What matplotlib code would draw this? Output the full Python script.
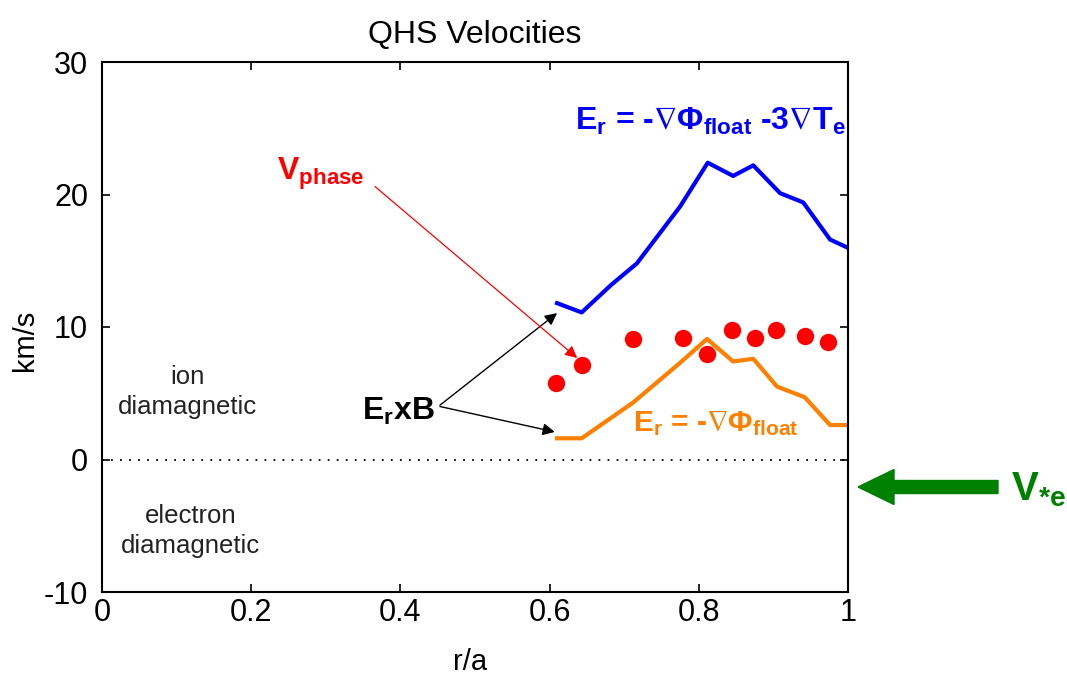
import matplotlib
matplotlib.use("Agg")
import matplotlib.pyplot as plt
from matplotlib.patches import FancyArrow

plt.rcParams['font.family'] = ['Liberation Sans', 'DejaVu Sans']
plt.rcParams['mathtext.fontset'] = 'custom'
plt.rcParams['mathtext.rm'] = 'Liberation Sans:bold'
plt.rcParams['mathtext.it'] = 'Liberation Sans:bold'
plt.rcParams['mathtext.bf'] = 'Liberation Sans:bold'
plt.rcParams['mathtext.sf'] = 'Liberation Sans:bold'
plt.rcParams['mathtext.fallback'] = 'stixsans'
plt.rcParams['axes.unicode_minus'] = False

# ---- data ----
r_full = [0.610, 0.643, 0.683, 0.717, 0.775, 0.812, 0.846, 0.873, 0.909, 0.940, 0.976, 0.999]
v_full = [11.8, 11.1, 13.2, 14.8, 19.1, 22.4, 21.4, 22.2, 20.1, 19.4, 16.6, 16.0]

r_float = [0.610, 0.643, 0.712, 0.775, 0.811, 0.846, 0.873, 0.905, 0.942, 0.976, 0.999]
v_float = [1.6, 1.6, 4.3, 7.3, 9.1, 7.4, 7.6, 5.5, 4.7, 2.6, 2.6]

r_phase = [0.609, 0.643, 0.712, 0.779, 0.811, 0.845, 0.875, 0.903, 0.943, 0.973]
v_phase = [5.8, 7.1, 9.1, 9.2, 8.0, 9.8, 9.2, 9.8, 9.3, 8.9]

xticks = [0, 0.2, 0.4, 0.6, 0.8, 1]
xticklabels = ['0', '0.2', '0.4', '0.6', '0.8', '1']
yticks = [-10, 0, 10, 20, 30]

W, H = 1067, 682
fig = plt.figure(figsize=(W / 100, H / 100), dpi=100)
ax = fig.add_axes([102 / W, 1 - 592 / H, 746 / W, 530 / H])

ax.axhline(0, color='black', ls=(0, (1, 4)), lw=1.3)
ax.plot(r_full, v_full, color='#0000ff', lw=3.0, solid_joinstyle='round')
ax.plot(r_float, v_float, color='#ff8000', lw=3.0, solid_joinstyle='round')
ax.plot(r_phase, v_phase, 'o', color='#ff0000', ms=12.5, mec='none')

ax.set_xlim(0, 1)
ax.set_ylim(-10, 30)
ax.set_xticks(xticks)
ax.set_xticklabels(xticklabels)
ax.set_yticks(yticks)
ax.tick_params(direction='in', top=True, right=True, length=6, width=1.2,
               labelsize=22, colors='black')
ax.tick_params(axis='x', pad=4)
ax.tick_params(axis='y', pad=10)
for s in ax.spines.values():
    s.set_linewidth(1.5)

ax.set_title('QHS Velocities', fontsize=23, pad=14)
fig.text(25 / W, 1 - 340 / H, 'km/s', rotation=90, ha='center', va='center', fontsize=21)
fig.text(470 / W, 1 - 662 / H, 'r/a', ha='center', va='center', fontsize=21)

ax.text(0.115, 5.1, 'ion\ndiamagnetic', ha='center', va='center', fontsize=18.5,
        linespacing=1.35, color='#222222')
ax.text(0.119, -5.4, 'electron\ndiamagnetic', ha='center', va='center', fontsize=18.5,
        linespacing=1.35, color='#222222')

# annotations
ax.text(0.634, 24.9, r'E$_r$ = -$\nabla$Φ$_{float}$ -3$\nabla$T$_e$', fontweight='bold',
        color='#0000ff', fontsize=23, ha='left', va='baseline')
ax.text(0.712, 2.1, r'E$_r$ = -$\nabla$Φ$_{float}$', fontweight='bold',
        color='#ff8000', fontsize=21.5, ha='left', va='baseline')
ax.text(0.235, 21.1, 'V$_{phase}$', fontweight='bold', color='#ff0000', fontsize=23,
        ha='left', va='baseline')
ax.text(0.349, 3.0, 'E$_r$xB', fontweight='bold', color='black', fontsize=23,
        ha='left', va='baseline')

ap_k = dict(arrowstyle='-|>', color='black', lw=1.0, mutation_scale=18,
            shrinkA=0, shrinkB=0)
ax.annotate('', xy=(0.610, 11.05), xytext=(0.453, 4.1), arrowprops=ap_k)
ax.annotate('', xy=(0.607, 2.08), xytext=(0.453, 4.0), arrowprops=ap_k)
ap_r = dict(arrowstyle='-|>', color='#ff0000', lw=0.9, mutation_scale=18,
            shrinkA=0, shrinkB=0)
ax.annotate('', xy=(0.637, 7.66), xytext=(0.366, 20.6), arrowprops=ap_r)

# green V*e arrow outside the axes
arr = FancyArrow(9.98, (H - 487) / 100, -1.40, 0, width=0.13, head_width=0.35,
                 head_length=0.36, length_includes_head=True, color='#008000',
                 transform=fig.dpi_scale_trans, clip_on=False)
fig.add_artist(arr)
fig.text(1011 / W, 1 - 500 / H, 'V$_{*e}$', fontweight='bold', color='#008000',
         fontsize=29, ha='left', va='baseline')

fig.savefig('out.png', dpi=100)
